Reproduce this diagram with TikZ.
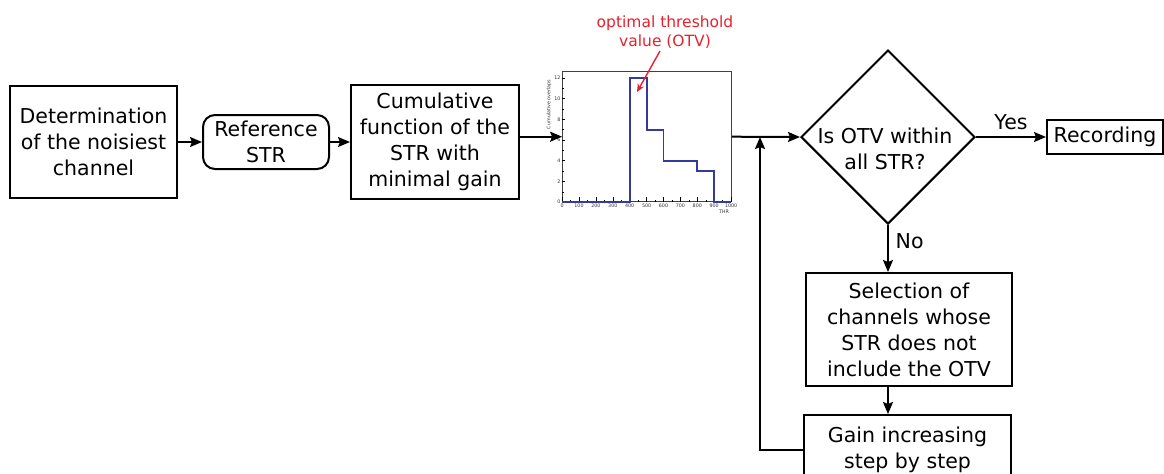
\documentclass[tikz,border=0pt]{standalone}
\usepackage{fontspec}
\setmainfont{DejaVu Sans}
\usetikzlibrary{shapes.geometric,arrows.meta}

\definecolor{histblue}{RGB}{52,58,158}
\definecolor{otvred}{RGB}{232,32,44}

\tikzset{
  box/.style={draw, line width=1pt, align=center, inner sep=0pt},
  flow/.style={line width=1pt, -{Stealth[length=6pt,width=5pt,inset=1pt]}},
  ticklab/.style={font=\fontsize{2.4}{2.8}\selectfont, text=black!80, inner sep=0.6pt},
  otvnote/.style={font=\fontsize{7.75}{9.7}\selectfont, text=otvred, align=center}
}

\begin{document}
\begin{tikzpicture}[x=0.5pt, y=-0.5pt, every node/.append style={font=\fontsize{10.25}{13}\selectfont}]

\useasboundingbox (0,0) rectangle (1164,473);

% boites du flux
\node[box, minimum width=83.5pt, minimum height=56pt] (noisy) at (93.5,142) {Determination\\of the noisiest\\channel};
\node[box, rounded corners=6pt, minimum width=63pt, minimum height=27pt] (ref) at (266,142) {Reference\\STR};
\node[box, minimum width=84pt, minimum height=57pt] (cumul) at (435,142) {Cumulative\\function of the\\STR with\\minimal gain};
\node[draw=black!75, line width=0.4pt, minimum width=84.5pt, minimum height=65pt, inner sep=0pt] (hist) at (647,136.7) {};
\node[box, diamond, minimum width=87pt, minimum height=87pt] (check) at (888,137) {};
\node (checktxt) at (885,149) [align=center] {Is OTV within\\all STR?};
\node[box, minimum width=58pt, minimum height=17pt] (rec) at (1105,137) {Recording};
\node[box, minimum width=103pt, minimum height=56.5pt] (sel) at (909,329.5) {Selection of\\channels whose\\STR does not\\include the OTV};
\node[box, minimum width=103.5pt, minimum height=35pt] (gain) at (907.5,450) {Gain increasing\\step by step};
\coordinate (join) at (760,137);

% histogramme
\begin{scope}[shift={(hist.south west)}, x=0.0845pt, y=5.17pt]
  \foreach \v in {0,50,...,1000}
    \draw[line width=0.25pt] (\v,0) -- (\v,0.25);
  \foreach \v in {0,100,...,1000} {
    \draw[line width=0.3pt] (\v,0) -- (\v,0.45);
    \node[ticklab, below] (xl\v) at (\v,0) {\v};
  }
  \foreach \v in {0,1,...,12}
    \draw[line width=0.25pt] (0,\v) -- (10,\v);
  \foreach \v in {0,2,...,12} {
    \draw[line width=0.3pt] (0,\v) -- (18,\v);
    \node[ticklab, left] (yl\v) at (0,\v) {\v};
  }
  \draw[histblue, line width=0.9pt] (0,0) -- (400,0) -- (400,12) -- (500,12) -- (500,7) -- (600,7)
    -- (600,4) -- (800,4) -- (800,3) -- (900,3) -- (900,0) -- (1000,0);
\end{scope}
\node[ticklab, rotate=90, anchor=east] (ylab) at (549,78) {Cumulative overlaps};
\node[ticklab] (thr) at (724,212) {THR};

% note OTV
\node[otvnote] (otv) at (665,32) {optimal threshold\\value (OTV)};
\coordinate (otvtip) at (637,92);
\draw[otvred, line width=0.7pt, -{Stealth[length=4pt,width=3.5pt]}] (660,51) -- (otvtip);

% connecteurs
\draw[flow] (noisy) -- (ref);
\draw[flow] (ref) -- (cumul);
\draw[flow] (cumul.east |- hist.west) -- (hist.west);
\draw[flow] (hist.east) -- (check.west);
\draw[flow] (check.east) -- (rec.west) node[midway, above] (yes) {Yes};
\draw[flow] (check.south) -- (check.south |- sel.north) node[pos=0.35, right] (no) {No};
\draw[flow] (check.south |- sel.south) -- (check.south |- gain.north);
\draw[flow] (gain.west) -| (join);

\end{tikzpicture}
\end{document}
